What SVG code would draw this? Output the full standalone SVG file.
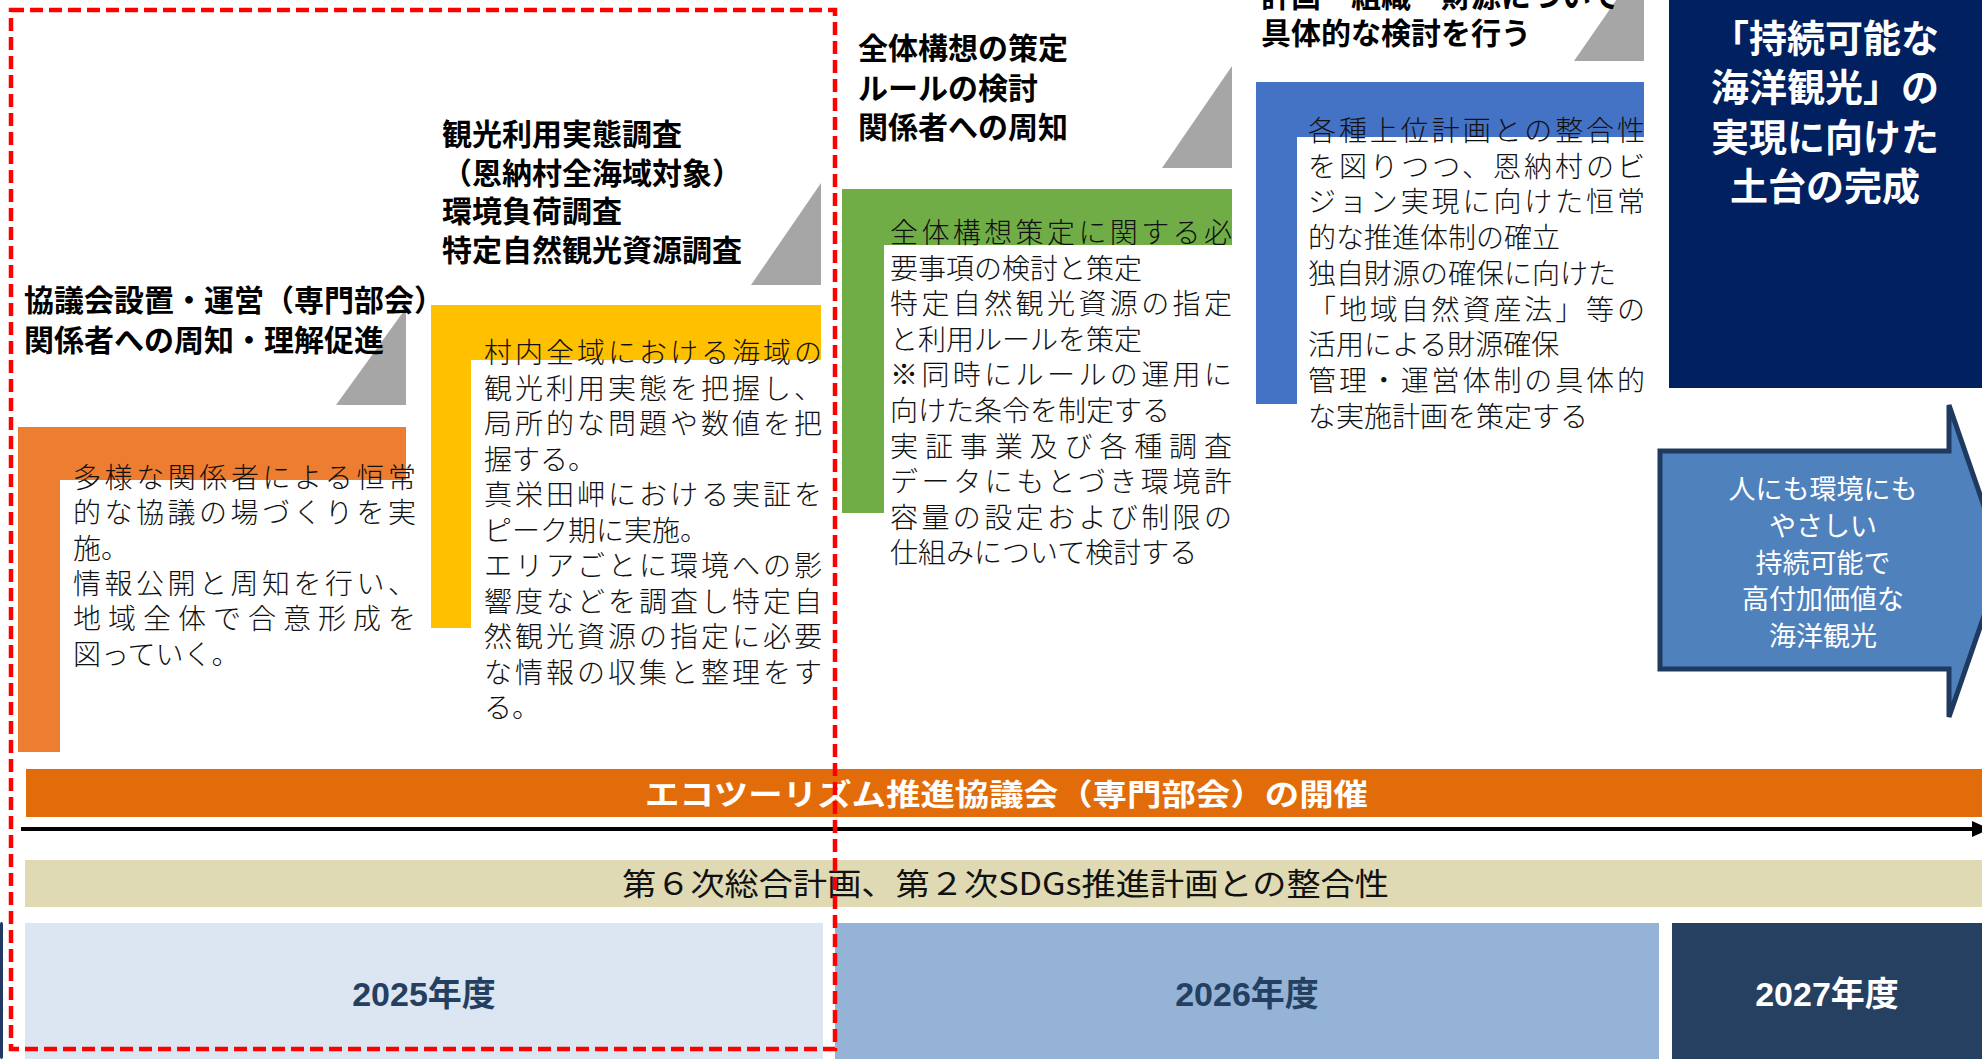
<svg xmlns="http://www.w3.org/2000/svg" width="1982" height="1059" viewBox="0 0 1982 1059">
<defs>
<style>
.ttl{font-family:"Noto Sans CJK JP","Noto Sans",sans-serif;font-weight:700;font-size:30px;fill:#000}
.bd{font-family:"Noto Sans CJK JP","Noto Sans",sans-serif;font-weight:300;font-size:28px;fill:#111}
.tri{fill:#A6A6A6}
.yr{font-family:"Liberation Sans","Noto Sans CJK JP",sans-serif;font-weight:700;font-size:34px;text-anchor:middle}
</style>
</defs>
<rect width="1982" height="1059" fill="#FFFFFF"/>

<g id="years">
<rect x="0" y="922" width="3" height="137" rx="2" fill="#1F3864"/>
<rect x="25" y="923" width="798" height="136" fill="#DCE6F2"/>
<rect x="835" y="923" width="824" height="136" fill="#95B3D7"/>
<rect x="1672" y="923" width="310" height="136" fill="#254061"/>
<text class="yr" x="424" y="1006" fill="#243F60">2025年度</text>
<text class="yr" x="1247" y="1006" fill="#243F60">2026年度</text>
<text class="yr" x="1827" y="1006" fill="#FFFFFF">2027年度</text>
</g>

<g id="plan-bar">
<rect x="25" y="860" width="1957" height="47" fill="#DFDAB3"/>
<text x="622" y="895" textLength="767" lengthAdjust="spacingAndGlyphs" style="font-family:'Noto Sans CJK JP',sans-serif;font-size:31px;fill:#111">第６次総合計画、第２次SDGs推進計画との整合性</text>
</g>

<g id="council-banner">
<rect x="26" y="769" width="1956" height="48" fill="#E36C0A"/>
<text x="645" y="805" textLength="723" lengthAdjust="spacingAndGlyphs" style="font-family:'Noto Sans CJK JP',sans-serif;font-weight:700;font-size:30px;fill:#FFFFFF">エコツーリズム推進協議会（専門部会）の開催</text>
</g>

<g id="connectors">
<line x1="21" y1="829" x2="1974" y2="829" stroke="#000" stroke-width="4"/>
<polygon points="1972,821 1990,829 1972,837" fill="#000"/>
</g>

<g id="step1">
<path d="M18 427 H406 V480 H60 V752 H18 Z" fill="#ED7D31"/>
<polygon class="tri" points="336,405 406,405 406,308"/>
<text class="ttl" x="24" y="311">協議会設置・運営（専門部会）</text>
<text class="ttl" x="24" y="351">関係者への周知・理解促進</text>
<text class="bd" x="73" y="488" textLength="343" lengthAdjust="spacing">多様な関係者による恒常</text>
<text class="bd" x="73" y="523.3" textLength="343" lengthAdjust="spacing">的な協議の場づくりを実</text>
<text class="bd" x="73" y="558.6">施。</text>
<text class="bd" x="73" y="593.9" textLength="343" lengthAdjust="spacing">情報公開と周知を行い、</text>
<text class="bd" x="73" y="629.2" textLength="343" lengthAdjust="spacing">地域全体で合意形成を</text>
<text class="bd" x="73" y="664.5">図っていく。</text>
</g>

<g id="step2">
<path d="M431 305 H821 V360 H471 V628 H431 Z" fill="#FFC000"/>
<polygon class="tri" points="751,285 821,285 821,183"/>
<text class="ttl" x="442" y="145">観光利用実態調査</text>
<text class="ttl" x="442" y="184">（恩納村全海域対象）</text>
<text class="ttl" x="442" y="222">環境負荷調査</text>
<text class="ttl" x="442" y="261">特定自然観光資源調査</text>
<text class="bd" x="484" y="363" textLength="338" lengthAdjust="spacing">村内全域における海域の</text>
<text class="bd" x="484" y="398.5" textLength="338" lengthAdjust="spacing">観光利用実態を把握し、</text>
<text class="bd" x="484" y="434" textLength="338" lengthAdjust="spacing">局所的な問題や数値を把</text>
<text class="bd" x="484" y="469.5">握する。</text>
<text class="bd" x="484" y="505" textLength="338" lengthAdjust="spacing">真栄田岬における実証を</text>
<text class="bd" x="484" y="540.5">ピーク期に実施。</text>
<text class="bd" x="484" y="576" textLength="338" lengthAdjust="spacing">エリアごとに環境への影</text>
<text class="bd" x="484" y="611.5" textLength="338" lengthAdjust="spacing">響度などを調査し特定自</text>
<text class="bd" x="484" y="647" textLength="338" lengthAdjust="spacing">然観光資源の指定に必要</text>
<text class="bd" x="484" y="682.5" textLength="338" lengthAdjust="spacing">な情報の収集と整理をす</text>
<text class="bd" x="484" y="718">る。</text>
</g>

<g id="step3">
<path d="M842 189 H1232 V245 H884 V513 H842 Z" fill="#70AD47"/>
<polygon class="tri" points="1162,168 1232,168 1232,66"/>
<text class="ttl" x="858" y="59">全体構想の策定</text>
<text class="ttl" x="858" y="99">ルールの検討</text>
<text class="ttl" x="858" y="138">関係者への周知</text>
<text class="bd" x="890" y="243" textLength="342" lengthAdjust="spacing">全体構想策定に関する必</text>
<text class="bd" x="890" y="278.6">要事項の検討と策定</text>
<text class="bd" x="890" y="314.2" textLength="342" lengthAdjust="spacing">特定自然観光資源の指定</text>
<text class="bd" x="890" y="349.8">と利用ルールを策定</text>
<text class="bd" x="890" y="385.4" textLength="342" lengthAdjust="spacing">※同時にルールの運用に</text>
<text class="bd" x="890" y="421">向けた条令を制定する</text>
<text class="bd" x="890" y="456.6" textLength="342" lengthAdjust="spacing">実証事業及び各種調査</text>
<text class="bd" x="890" y="492.2" textLength="342" lengthAdjust="spacing">データにもとづき環境許</text>
<text class="bd" x="890" y="527.8" textLength="342" lengthAdjust="spacing">容量の設定および制限の</text>
<text class="bd" x="890" y="563.4">仕組みについて検討する</text>
</g>

<g id="step4">
<path d="M1256 82 H1644 V137 H1297 V404 H1256 Z" fill="#4472C4"/>
<polygon class="tri" points="1574,61 1644,61 1644,-40"/>
<text class="ttl" x="1261" y="7">計画・組織・財源について</text>
<text class="ttl" x="1261" y="44">具体的な検討を行う</text>
<text class="bd" x="1308" y="141" textLength="337" lengthAdjust="spacing">各種上位計画との整合性</text>
<text class="bd" x="1308" y="176.7" textLength="337" lengthAdjust="spacing">を図りつつ、恩納村のビ</text>
<text class="bd" x="1308" y="212.4" textLength="337" lengthAdjust="spacing">ジョン実現に向けた恒常</text>
<text class="bd" x="1308" y="248.1">的な推進体制の確立</text>
<text class="bd" x="1308" y="283.8">独自財源の確保に向けた</text>
<text class="bd" x="1308" y="319.5" textLength="337" lengthAdjust="spacing">「地域自然資産法」等の</text>
<text class="bd" x="1308" y="355.2">活用による財源確保</text>
<text class="bd" x="1308" y="390.9" textLength="337" lengthAdjust="spacing">管理・運営体制の具体的</text>
<text class="bd" x="1308" y="426.6">な実施計画を策定する</text>
</g>

<g id="goal-box">
<rect x="1669" y="-5" width="320" height="393" fill="#002060"/>
<g style="font-family:'Noto Sans CJK JP',sans-serif;font-weight:700;font-size:38px;fill:#FFFFFF;text-anchor:middle">
<text x="1825" y="52">「持続可能な</text>
<text x="1825" y="101">海洋観光」の</text>
<text x="1825" y="151">実現に向けた</text>
<text x="1825" y="200">土台の完成</text>
</g>
</g>

<g id="vision-arrow">
<path d="M1660 451 H1949 V405 L2003 561 L1949 717 V669 H1660 Z" fill="#4F81BD" stroke="#1F3A5F" stroke-width="5" stroke-linejoin="miter"/>
<g style="font-family:'Noto Sans CJK JP',sans-serif;font-size:27px;fill:#FFFFFF;text-anchor:middle">
<text x="1823" y="499">人にも環境にも</text>
<text x="1823" y="536">やさしい</text>
<text x="1823" y="572.5">持続可能で</text>
<text x="1823" y="609">高付加価値な</text>
<text x="1823" y="646">海洋観光</text>
</g>
</g>

<g id="focus-frame">
<rect x="11" y="10" width="824" height="1039" fill="none" stroke="#FF0000" stroke-width="4.5" stroke-dasharray="13 6"/>
</g>
</svg>
